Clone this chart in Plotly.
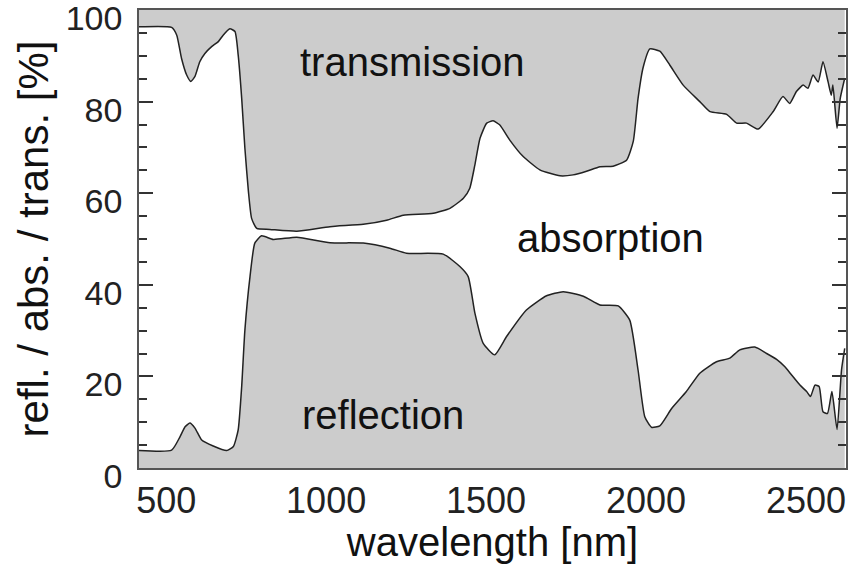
import plotly.graph_objects as go

# Transmission curve (upper boundary, plotted as 100 - T)
trans_wl = [400, 517, 533, 548, 564, 577, 590, 605, 621, 642, 663, 678, 699, 715, 725, 736, 746, 757, 767, 783,
            824, 908, 1012, 1116, 1189, 1241, 1335, 1387, 1429, 1449, 1465, 1481, 1502, 1522, 1543, 1574, 1616,
            1668, 1731, 1772, 1814, 1856, 1897, 1939, 1960, 1975, 1991, 2012, 2043, 2074, 2116, 2168, 2200, 2252,
            2283, 2314, 2350, 2397, 2428, 2449, 2470, 2491, 2506, 2522, 2538, 2553, 2569, 2579, 2584, 2597, 2607, 2621]
trans_edge = [96.3, 96.2, 94.5, 89.4, 85.8, 84.4, 85.5, 88.7, 90.5, 92.0, 93.1, 94.5, 95.9, 95.3, 90.2, 80.7, 69.8,
              60.4, 54.5, 52.3, 52.1, 51.7, 52.7, 53.2, 54.1, 55.2, 55.6, 56.7, 58.9, 61.1, 66.2, 72.0, 75.3, 75.8,
              74.9, 71.6, 68.0, 65.1, 63.8, 64.0, 64.8, 65.8, 65.9, 67.2, 71.3, 80.7, 87.5, 91.5, 91.0, 88.0, 83.6,
              80.0, 77.8, 77.2, 75.3, 75.3, 74.0, 77.8, 81.1, 79.6, 82.2, 83.6, 82.9, 85.8, 84.3, 88.7, 84.3, 81.4,
              83.6, 74.2, 80.7, 85.1]

# Reflection curve
refl_wl = [400, 517, 543, 559, 574, 590, 611, 647, 689, 710, 725, 736, 746, 762, 777, 798, 835, 908, 1012, 1116,
           1199, 1251, 1366, 1418, 1444, 1465, 1491, 1527, 1564, 1626, 1689, 1741, 1804, 1856, 1913, 1949, 1975,
           1996, 2017, 2043, 2080, 2126, 2168, 2220, 2262, 2293, 2340, 2377, 2408, 2434, 2455, 2481, 2502, 2514,
           2528, 2541, 2553, 2567, 2581, 2597, 2611, 2621]
refl = [3.9, 3.9, 6.8, 9.0, 9.8, 8.7, 6.1, 4.8, 3.8, 4.7, 8.3, 17.8, 30.1, 41.8, 49.1, 50.7, 49.9, 50.4, 49.2, 49.1,
        48.0, 46.9, 46.7, 44.0, 41.8, 33.8, 27.2, 24.7, 28.7, 34.5, 37.6, 38.5, 37.5, 35.6, 35.4, 32.3, 21.4,
        11.2, 8.9, 9.2, 13.0, 16.7, 20.7, 23.2, 24.0, 25.8, 26.4, 25.0, 23.7, 22.1, 20.3, 18.1, 16.7, 15.6,
        18.1, 17.8, 12.3, 11.9, 16.7, 8.4, 21.4, 26.1]

y_ticks = [0, 20, 40, 60, 80, 100]
x_ticks = [500, 1000, 1500, 2000, 2500]

FILL = "rgb(204,204,204)"
LINE = "#222222"
FONT = "Liberation Sans, Arial, sans-serif"

fig = go.Figure()
fig.add_trace(go.Scatter(x=trans_wl, y=[100] * len(trans_wl), mode="lines",
                         line=dict(width=0), hoverinfo="skip", showlegend=False))
fig.add_trace(go.Scatter(x=trans_wl, y=trans_edge, mode="lines", fill="tonexty", fillcolor=FILL,
                         line=dict(color=LINE, width=1.5, shape="spline", smoothing=0.5), showlegend=False))
fig.add_trace(go.Scatter(x=refl_wl, y=refl, mode="lines", fill="tozeroy", fillcolor=FILL,
                         line=dict(color=LINE, width=1.5, shape="spline", smoothing=0.5), showlegend=False))

fig.add_annotation(x=1271, y=88.6, text="transmission", showarrow=False,
                   font=dict(size=40, color="#111111", family=FONT))
fig.add_annotation(x=1890, y=50.2, text="absorption", showarrow=False,
                   font=dict(size=40, color="#111111", family=FONT))
fig.add_annotation(x=1177, y=11.6, text="reflection", showarrow=False,
                   font=dict(size=40, color="#111111", family=FONT))

fig.update_layout(
    width=851, height=564,
    margin=dict(l=139, r=5, t=10, b=96),
    plot_bgcolor="white", paper_bgcolor="white",
    font=dict(family=FONT, color="#222222"),
)
fig.update_xaxes(range=[415, 2625], tickvals=x_ticks, ticks="", showgrid=False, zeroline=False,
                 showline=True, linecolor="#555555", linewidth=1.5, mirror=True, automargin=False,
                 tickfont=dict(size=36, color="#222222"),
                 title=dict(text="wavelength [nm]", font=dict(size=40, color="#111111"), standoff=0))
fig.update_yaxes(range=[0, 100], tickvals=y_ticks, ticks="inside", ticklen=14, tickwidth=1.5, tickcolor="#333333",
                 minor=dict(dtick=5, ticks="inside", ticklen=8, tickwidth=1.5, tickcolor="#333333"),
                 showgrid=False, zeroline=False, automargin=False,
                 showline=True, linecolor="#555555", linewidth=1.5, mirror="ticks",
                 tickfont=dict(size=34, color="#222222"), ticklabelstandoff=8,
                 ticklabeloverflow="allow", ticklabelshift=8,
                 title=dict(text="refl. / abs. / trans. [%]", font=dict(size=42, color="#111111"), standoff=4))

fig.write_html("out.html")
